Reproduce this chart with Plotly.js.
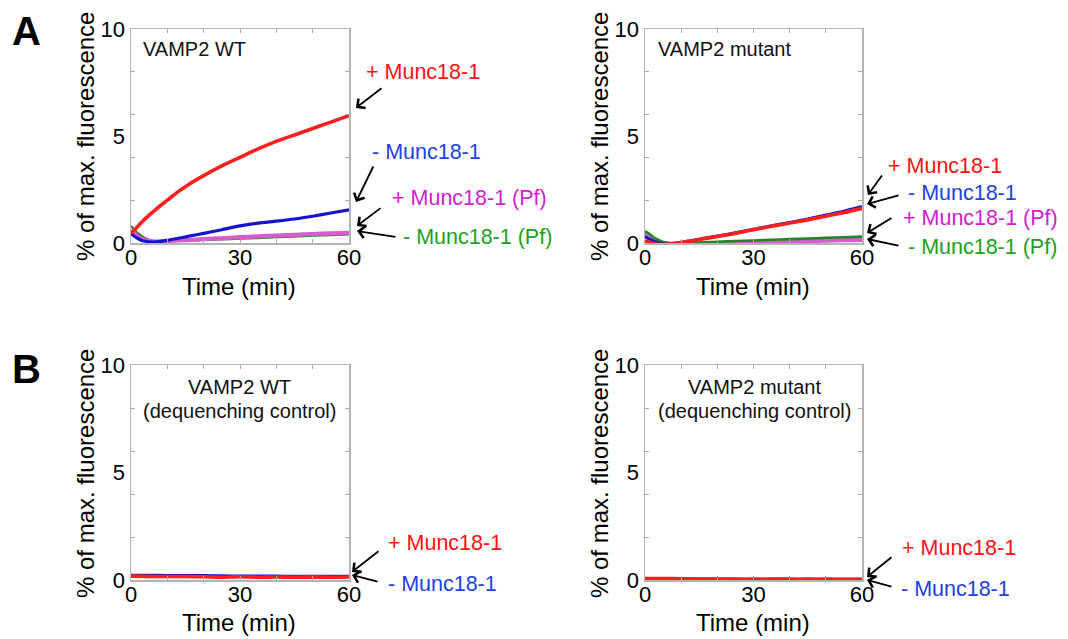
<!DOCTYPE html>
<html>
<head>
<meta charset="utf-8">
<script src="https://cdn.plot.ly/plotly-3.0.1.min.js"></script>
<style>
html,body{margin:0;padding:0;background:#fff;}
#chart{width:1068px;height:639px;}
</style>
</head>
<body>
<div id="chart"></div>
<script>
// ---------- DATA ----------
const timeA = [0, 1, 2, 3, 5, 7, 10, 13, 16, 20, 25, 30, 35, 40, 45, 50, 55, 60];

// Panel A, VAMP2 WT
const wtPlus    = [0.45, 0.62, 0.80, 0.98, 1.30, 1.60, 2.00, 2.40, 2.75, 3.15, 3.60, 4.00, 4.40, 4.75, 5.05, 5.35, 5.65, 5.95];
const wtMinus   = [0.45, 0.30, 0.20, 0.12, 0.06, 0.05, 0.12, 0.22, 0.32, 0.45, 0.62, 0.80, 0.93, 1.02, 1.12, 1.25, 1.40, 1.55];
const wtPlusPf  = [0.60, 0.45, 0.30, 0.20, 0.10, 0.07, 0.10, 0.12, 0.14, 0.18, 0.22, 0.27, 0.31, 0.35, 0.38, 0.42, 0.45, 0.48];
const wtMinusPf = [0.80, 0.60, 0.45, 0.32, 0.15, 0.08, 0.08, 0.10, 0.12, 0.15, 0.17, 0.20, 0.23, 0.27, 0.30, 0.34, 0.37, 0.40];

// Panel A, VAMP2 mutant
const mutPlus    = [0.10, 0.05, 0.00, -0.05, -0.08, -0.05, 0.02, 0.10, 0.20, 0.30, 0.45, 0.62, 0.78, 0.93, 1.08, 1.25, 1.42, 1.62];
const mutMinus   = [0.30, 0.20, 0.12, 0.05, -0.05, -0.05, 0.03, 0.11, 0.21, 0.32, 0.47, 0.64, 0.80, 0.96, 1.12, 1.30, 1.48, 1.70];
const mutPlusPf  = [0.45, 0.35, 0.22, 0.10, 0.00, -0.05, -0.05, -0.04, -0.03, -0.01, 0.01, 0.03, 0.05, 0.07, 0.09, 0.11, 0.13, 0.15];
const mutMinusPf = [0.55, 0.45, 0.32, 0.20, 0.05, 0.00, 0.00, 0.01, 0.03, 0.06, 0.09, 0.12, 0.15, 0.18, 0.21, 0.24, 0.27, 0.30];

// Panel B, dequenching controls
const timeB = [0, 5, 10, 15, 20, 25, 30, 35, 40, 45, 50, 55, 60];
const ctrlWtPlus   = [0.18, 0.17, 0.16, 0.16, 0.15, 0.13, 0.15, 0.13, 0.14, 0.13, 0.14, 0.13, 0.14];
const ctrlWtMinus  = [0.22, 0.22, 0.21, 0.20, 0.20, 0.19, 0.18, 0.18, 0.18, 0.17, 0.17, 0.17, 0.17];
const ctrlMutPlus  = [0.07, 0.07, 0.06, 0.05, 0.05, 0.04, 0.03, 0.04, 0.04, 0.03, 0.04, 0.03, 0.03];
const ctrlMutMinus = [0.05, 0.05, 0.05, 0.04, 0.04, 0.03, 0.04, 0.03, 0.03, 0.04, 0.03, 0.03, 0.03];

const xTickVals = [0, 30, 60];
const yTickVals = [0, 5, 10];
const seriesLabels = ['+ Munc18-1', '- Munc18-1', '+ Munc18-1 (Pf)', '- Munc18-1 (Pf)'];

// ---------- STYLE ----------
const W = 1068, H = 639;
const FONT = 'Liberation Sans, Arial, Helvetica, sans-serif';
const C = {red:'#ff1f1f', blue:'#1414cc', mag:'#d85ccd', green:'#238523'};
const TXT = {red:'#ff1010', blue:'#2040e0', mag:'#d020d0', green:'#20a020'};
const PX = v => v / W;
const PY = v => 1 - v / H;

function line(x, y, color, width, xa, ya, name){
  return {x:x, y:y, type:'scatter', mode:'lines', name:name, xaxis:xa, yaxis:ya,
          line:{color:color, width:width, shape:'spline', smoothing:0.6}, hoverinfo:'skip'};
}

const traces = [
  line(timeA, wtMinusPf, C.green, 2.2, 'x', 'y', seriesLabels[3]),
  line(timeA, wtPlusPf,  C.mag,   4.2, 'x', 'y', seriesLabels[2]),
  line(timeA, wtMinus,   C.blue,  3.2, 'x', 'y', seriesLabels[1]),
  line(timeA, wtPlus,    C.red,   3.6, 'x', 'y', seriesLabels[0]),

  line(timeA, mutPlusPf,  C.mag,   4.2, 'x2', 'y2', seriesLabels[2]),
  line(timeA, mutMinusPf, C.green, 2.6, 'x2', 'y2', seriesLabels[3]),
  line(timeA, mutMinus,   C.blue,  3.2, 'x2', 'y2', seriesLabels[1]),
  line(timeA, mutPlus,    C.red,   3.6, 'x2', 'y2', seriesLabels[0]),

  line(timeB, ctrlWtMinus, C.blue, 3.2, 'x3', 'y3', seriesLabels[1]),
  line(timeB, ctrlWtPlus,  C.red,  3.6, 'x3', 'y3', seriesLabels[0]),

  line(timeB, ctrlMutMinus, C.blue, 3.2, 'x4', 'y4', seriesLabels[1]),
  line(timeB, ctrlMutPlus,  C.red,  3.6, 'x4', 'y4', seriesLabels[0])
];

const boxL = [131, 645], boxR = [349, 862];
const boxT = [29, 365], boxB = [243, 580];

function xax(col, row, anchor){
  return {
    domain:[PX(boxL[col]), PX(boxR[col])], anchor:anchor, range:[0, 60],
    tickmode:'array', tickvals:xTickVals, ticks:'inside', ticklen:4, tickwidth:1, tickcolor:'#a8a8a8',
    minor:{tickmode:'array', tickvals:[10, 20, 40, 50], ticks:'inside', ticklen:4, tickwidth:1, tickcolor:'#a8a8a8'},
    showline:true, linecolor:'#b4b4b4', linewidth:1.5, mirror:'allticks',
    showgrid:false, zeroline:false, fixedrange:true, ticklabelstandoff:-6,
    tickfont:{family:FONT, size:22, color:'#000'}
  };
}
function yax(col, row, anchor){
  return {
    domain:[PY(boxB[row]), PY(boxT[row])], anchor:anchor, range:[0, 10],
    tickmode:'array', tickvals:yTickVals, ticks:'',
    minor:{tickmode:'array', tickvals:[2, 4, 6, 8], ticks:'inside', ticklen:4, tickwidth:1, tickcolor:'#a8a8a8'},
    showline:true, linecolor:'#b4b4b4', linewidth:1.5, mirror:'allticks',
    showgrid:false, zeroline:false, fixedrange:true,
    tickfont:{family:FONT, size:22, color:'#000'}
  };
}

const ann = [];
function txt(text, x, y, size, color, xanchor, extra){
  ann.push(Object.assign({text:text, x:PX(x), y:PY(y), xref:'paper', yref:'paper',
    xanchor:xanchor || 'left', yanchor:'middle', showarrow:false,
    font:{family:FONT, size:size, color:color}}, extra || {}));
}
function arrow(tx, ty, hx, hy){
  ann.push({text:'', x:PX(hx), y:PY(hy), xref:'paper', yref:'paper',
    ax:tx - hx, ay:ty - hy, axref:'pixel', ayref:'pixel',
    showarrow:true, arrowhead:4, arrowsize:1.25, arrowwidth:1.8, arrowcolor:'#000',
    standoff:0, startstandoff:0});
}

// panel letters
txt('<b>A</b>', 26, 31, 40, '#000', 'center');
txt('<b>B</b>', 26, 369, 40, '#000', 'center');

// axis titles
[[85,137],[599,137],[85,474],[599,474]].forEach(p =>
  txt('% of max. fluorescence', p[0], p[1], 24, '#000', 'center', {textangle:-90}));
[[239,286],[753,286],[239,622],[753,622]].forEach(p =>
  txt('Time (min)', p[0], p[1], 24, '#000', 'center'));

// inner titles
txt('VAMP2 WT', 141, 49, 20, '#111', 'left');
txt('VAMP2 mutant', 656, 49, 20, '#111', 'left');
txt('VAMP2 WT', 239, 387, 20, '#111', 'center');
txt('(dequenching control)', 239, 411, 20, '#111', 'center');
txt('VAMP2 mutant', 754, 387, 20, '#111', 'center');
txt('(dequenching control)', 754, 411, 20, '#111', 'center');

// series labels + arrows, A left
txt(seriesLabels[0], 364, 72, 21.5, TXT.red);
txt(seriesLabels[1], 370, 152, 21.5, TXT.blue);
txt(seriesLabels[2], 390, 198, 21.5, TXT.mag);
txt(seriesLabels[3], 401, 237, 21.5, TXT.green);
arrow(383, 87, 356, 108);
arrow(374, 165, 356, 202);
arrow(382, 207, 357, 226);
arrow(397, 237, 357, 231);

// A right
txt(seriesLabels[0], 886, 166, 21.5, TXT.red);
txt(seriesLabels[1], 906, 193, 21.5, TXT.blue);
txt(seriesLabels[2], 901, 218, 21.5, TXT.mag);
txt(seriesLabels[3], 906, 247, 21.5, TXT.green);
arrow(883, 174, 868, 195);
arrow(900, 195, 867, 204);
arrow(893, 217, 867, 233);
arrow(900, 246, 867, 239);

// B left
txt(seriesLabels[0], 386, 543, 21.5, TXT.red);
txt(seriesLabels[1], 386, 584, 21.5, TXT.blue);
arrow(380, 550, 352, 572);
arrow(379, 582, 352, 575);

// B right
txt(seriesLabels[0], 900, 548, 21.5, TXT.red);
txt(seriesLabels[1], 899, 589, 21.5, TXT.blue);
arrow(893, 556, 867, 577);
arrow(893, 587, 867, 580);

const layout = {
  width:W, height:H, margin:{l:0, r:0, t:0, b:0},
  paper_bgcolor:'#fff', plot_bgcolor:'#fff', showlegend:false,
  font:{family:FONT, color:'#000'},
  xaxis:xax(0, 0, 'y'),  yaxis:yax(0, 0, 'x'),
  xaxis2:xax(1, 0, 'y2'), yaxis2:yax(1, 0, 'x2'),
  xaxis3:xax(0, 1, 'y3'), yaxis3:yax(0, 1, 'x3'),
  xaxis4:xax(1, 1, 'y4'), yaxis4:yax(1, 1, 'x4'),
  annotations:ann
};

Plotly.newPlot('chart', traces, layout, {staticPlot:true, displayModeBar:false});
</script>
</body>
</html>
